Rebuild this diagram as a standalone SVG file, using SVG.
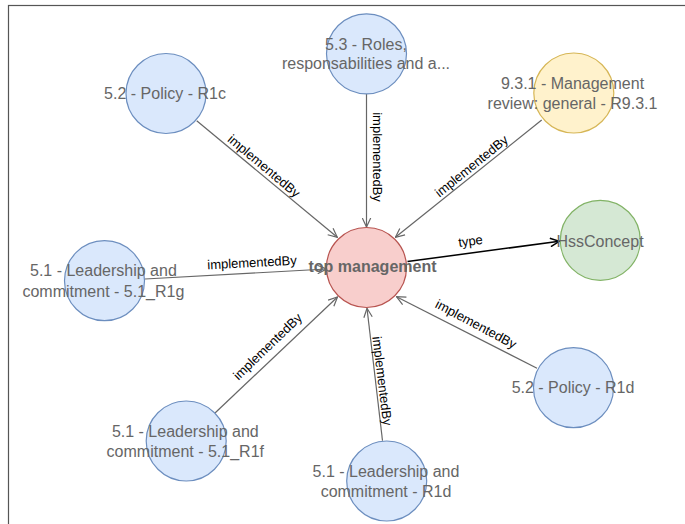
<svg xmlns="http://www.w3.org/2000/svg" width="685" height="524" viewBox="0 0 685 524">
<style>
.frame{fill:none;stroke:#555;stroke-width:1.2}
circle{stroke-width:1.2}
.blue{fill:#dae8fc;stroke:#6c8ebf}
.red{fill:#f8cecc;stroke:#b85450}
.yellow{fill:#fff2cc;stroke:#d6b656}
.green{fill:#d5e8d4;stroke:#82b366}
.nl{font-family:"Liberation Sans",Arial,Helvetica,sans-serif;font-size:16px;fill:#666;text-anchor:middle}
.b{font-weight:bold}
.e{fill:none;stroke:#666;stroke-width:1.2;marker-end:url(#ag)}
.et{fill:none;stroke:#000;stroke-width:1.5;marker-end:url(#ab)}
.el{font-family:"Liberation Sans",Arial,Helvetica,sans-serif;font-size:13px;fill:#000;text-anchor:middle;dominant-baseline:central}
</style>
<defs>
<marker id="ag" viewBox="0 0 10 10" refX="9.5" refY="5" markerWidth="10" markerHeight="10" markerUnits="userSpaceOnUse" orient="auto"><path d="M0.5,0.8 L9.5,5 L0.5,9.2" fill="none" stroke="#666" stroke-width="1.2"/></marker>
<marker id="ab" viewBox="0 0 10 10" refX="9.5" refY="5" markerWidth="10" markerHeight="10" markerUnits="userSpaceOnUse" orient="auto"><path d="M0.5,0.8 L9.5,5 L0.5,9.2" fill="none" stroke="#000" stroke-width="1.5"/></marker>
</defs>
<rect class="frame" x="8.5" y="5.5" width="700" height="540"/>
<g id="connectors">
<path class="e" d="M196.7,120.7 L337.3,237.3"/>
<path class="e" d="M366.5,94 L366.5,227"/>
<path class="e" d="M541.7,120 L395.4,237.3"/>
<path class="et" d="M407.5,261.5 L559.3,241.3"/>
<path class="e" d="M145,279 L326.5,269"/>
<path class="e" d="M215,413 L337.5,297"/>
<path class="e" d="M382.5,440.7 L367,308.3"/>
<path class="e" d="M537,368.3 L396.5,296.7"/>
<text class="el" transform="translate(264,166) rotate(40)">implementedBy</text>
<text class="el" transform="translate(377,157) rotate(90)">implementedBy</text>
<text class="el" transform="translate(471.5,166) rotate(-39)">implementedBy</text>
<text class="el" transform="translate(470.5,241) rotate(-7.6)">type</text>
<text class="el" transform="translate(252,262.5) rotate(-3)">implementedBy</text>
<text class="el" transform="translate(267.5,346.5) rotate(-44)">implementedBy</text>
<text class="el" transform="translate(382.3,381) rotate(83)">implementedBy</text>
<text class="el" transform="translate(476,324) rotate(28)">implementedBy</text>
</g>
<g id="node-policy-r1c"><circle class="blue" cx="166" cy="93.5" r="40"/><text class="nl" x="165" y="99.2">5.2 - Policy - R1c</text></g>
<g id="node-roles"><circle class="blue" cx="366.5" cy="53.8" r="40"/><text class="nl" x="366" y="49.7">5.3 - Roles,</text><text class="nl" x="366" y="69.2">responsabilities and a...</text></g>
<g id="node-mgmt-review"><circle class="yellow" cx="573.8" cy="93" r="40"/><text class="nl" x="572.5" y="89">9.3.1 - Management</text><text class="nl" x="572.5" y="109">review: general - R9.3.1</text></g>
<g id="node-hssconcept"><circle class="green" cx="600.3" cy="240.3" r="40"/><text class="nl" x="600" y="247.4">HssConcept</text></g>
<g id="node-leadership-r1g"><circle class="blue" cx="104.5" cy="280.7" r="40"/><text class="nl" x="103.4" y="276.4">5.1 - Leadership and</text><text class="nl" x="103.4" y="296.7">commitment - 5.1_R1g</text></g>
<g id="node-leadership-r1f"><circle class="blue" cx="186.2" cy="441" r="40"/><text class="nl" x="185.3" y="437.4">5.1 - Leadership and</text><text class="nl" x="185.3" y="456.7">commitment - 5.1_R1f</text></g>
<g id="node-leadership-r1d"><circle class="blue" cx="386.7" cy="481" r="40"/><text class="nl" x="386" y="477.4">5.1 - Leadership and</text><text class="nl" x="386" y="497.4">commitment - R1d</text></g>
<g id="node-policy-r1d"><circle class="blue" cx="573.5" cy="387.7" r="40"/><text class="nl" x="573" y="393">5.2 - Policy - R1d</text></g>
<g id="node-top-management"><circle class="red" cx="366.5" cy="267.5" r="40"/><text class="nl b" x="372.5" y="272">top management</text></g>
</svg>
